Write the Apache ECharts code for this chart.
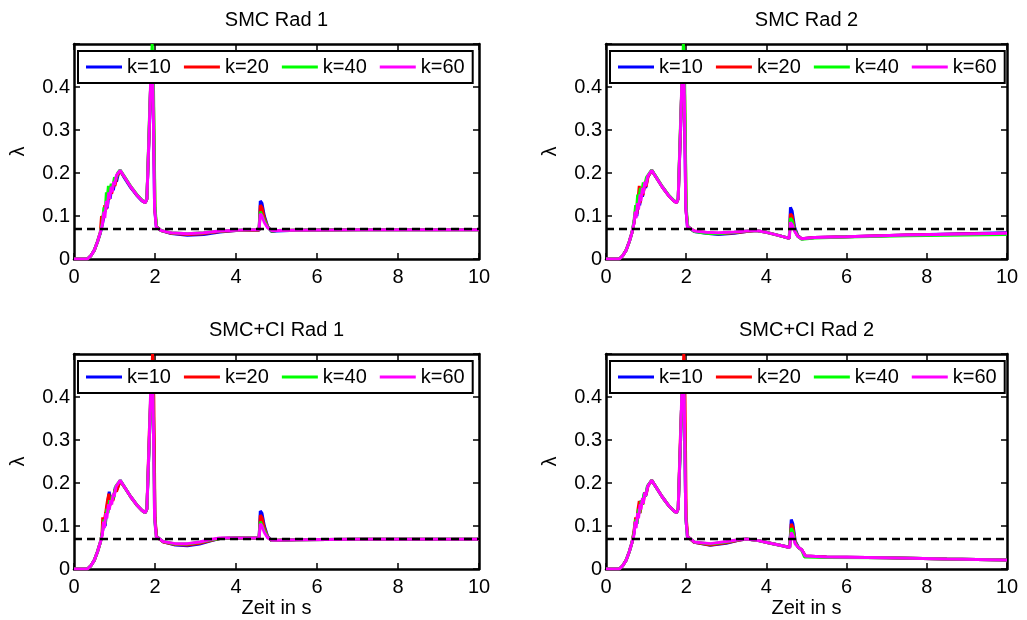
<!DOCTYPE html>
<html><head><meta charset="utf-8">
<script src="https://cdn.jsdelivr.net/npm/echarts@6/dist/echarts.min.js"></script>
<style>html,body{margin:0;padding:0;background:#fff}#c{width:1027px;height:620px}</style>
</head><body><div id="c"></div>
<script>
const legendNames = ['k=10','k=20','k=40','k=60'];
const seriesColors = ['#0000ff','#ff0000','#00ff00','#ff00ff'];
const panelTitles = ['SMC Rad 1','SMC Rad 2','SMC+CI Rad 1','SMC+CI Rad 2'];
const xTickLabels = ['0','2','4','6','8','10'];
const yTickLabels = ['0','0.1','0.2','0.3','0.4'];
const xRange = [0, 10];
const referenceLambda = 0.07;

const smc1_k10 = [[0,0],[0.33,0],[0.42,0.008],[0.5,0.02],[0.58,0.04],[0.65,0.06],[0.7,0.08],[0.75,0.105],[0.79,0.125],[0.82,0.118],[0.86,0.148],[0.89,0.14],[0.94,0.168],[0.97,0.16],[1.02,0.185],[1.05,0.18],[1.1,0.2],[1.14,0.206],[1.25,0.188],[1.4,0.166],[1.55,0.148],[1.68,0.135],[1.76,0.131],[1.8,0.14],[1.86,0.3],[1.91,0.46],[1.95,0.4],[1.99,0.12],[2.03,0.076],[2.15,0.066],[2.4,0.059],[2.8,0.055],[3.2,0.057],[3.6,0.063],[4.0,0.066],[4.4,0.067],[4.57,0.067],[4.6,0.135],[4.64,0.13],[4.7,0.1],[4.78,0.076],[4.88,0.064],[5.0,0.065],[5.5,0.067],[7,0.068],[10,0.068]];
const smc1_k20 = [[0,0],[0.33,0],[0.42,0.008],[0.5,0.02],[0.58,0.04],[0.65,0.062],[0.68,0.1],[0.71,0.09],[0.76,0.125],[0.79,0.115],[0.83,0.15],[0.86,0.138],[0.9,0.162],[0.93,0.152],[0.98,0.178],[1.01,0.17],[1.06,0.192],[1.14,0.205],[1.25,0.19],[1.4,0.168],[1.55,0.149],[1.68,0.136],[1.76,0.131],[1.8,0.14],[1.86,0.31],[1.92,0.48],[1.96,0.38],[2.0,0.11],[2.04,0.075],[2.15,0.066],[2.4,0.06],[2.8,0.057],[3.2,0.059],[3.6,0.064],[4.0,0.066],[4.4,0.067],[4.57,0.067],[4.6,0.125],[4.64,0.12],[4.7,0.095],[4.78,0.075],[4.88,0.065],[5.0,0.066],[5.5,0.067],[7,0.068],[10,0.068]];
const smc1_k40 = [[0,0],[0.33,0],[0.42,0.008],[0.5,0.02],[0.58,0.04],[0.65,0.062],[0.7,0.085],[0.74,0.12],[0.77,0.11],[0.8,0.155],[0.82,0.14],[0.85,0.17],[0.88,0.155],[0.92,0.175],[0.95,0.165],[1.0,0.19],[1.03,0.185],[1.08,0.2],[1.14,0.207],[1.25,0.191],[1.4,0.169],[1.55,0.15],[1.68,0.137],[1.76,0.132],[1.8,0.14],[1.86,0.32],[1.93,0.5],[1.96,0.42],[2.0,0.12],[2.04,0.075],[2.15,0.066],[2.4,0.061],[2.8,0.059],[3.2,0.061],[3.6,0.065],[4.0,0.067],[4.4,0.068],[4.57,0.068],[4.6,0.11],[4.64,0.108],[4.7,0.09],[4.78,0.074],[4.88,0.065],[5.0,0.066],[5.5,0.067],[7,0.068],[10,0.068]];
const smc1_k60 = [[0,0],[0.33,0],[0.42,0.008],[0.5,0.02],[0.58,0.04],[0.65,0.062],[0.7,0.08],[0.74,0.11],[0.76,0.095],[0.8,0.135],[0.82,0.12],[0.86,0.155],[0.88,0.14],[0.92,0.168],[0.94,0.155],[0.98,0.18],[1.0,0.172],[1.05,0.195],[1.14,0.206],[1.25,0.19],[1.4,0.168],[1.55,0.149],[1.68,0.136],[1.76,0.131],[1.8,0.14],[1.86,0.31],[1.91,0.47],[1.95,0.4],[1.99,0.12],[2.03,0.075],[2.15,0.066],[2.4,0.061],[2.8,0.059],[3.2,0.061],[3.6,0.065],[4.0,0.067],[4.4,0.068],[4.57,0.068],[4.6,0.105],[4.64,0.1],[4.7,0.085],[4.78,0.073],[4.88,0.066],[5.0,0.066],[5.5,0.067],[7,0.068],[10,0.068]];

const smc2_k10 = [[0,0],[0.33,0],[0.42,0.008],[0.5,0.02],[0.58,0.04],[0.65,0.062],[0.7,0.085],[0.74,0.11],[0.77,0.1],[0.81,0.135],[0.84,0.125],[0.88,0.155],[0.91,0.145],[0.96,0.172],[0.99,0.165],[1.04,0.19],[1.14,0.206],[1.25,0.19],[1.4,0.168],[1.55,0.149],[1.68,0.136],[1.76,0.131],[1.8,0.14],[1.86,0.3],[1.91,0.46],[1.95,0.4],[1.99,0.12],[2.03,0.076],[2.2,0.064],[2.5,0.06],[2.8,0.057],[3.2,0.06],[3.5,0.064],[3.75,0.066],[4.0,0.062],[4.3,0.055],[4.57,0.048],[4.6,0.12],[4.64,0.112],[4.7,0.075],[4.78,0.055],[4.88,0.047],[5.2,0.05],[6,0.052],[7.5,0.056],[10,0.061]];
const smc2_k20 = [[0,0],[0.33,0],[0.42,0.008],[0.5,0.02],[0.58,0.04],[0.65,0.062],[0.7,0.085],[0.74,0.115],[0.77,0.105],[0.8,0.14],[0.83,0.17],[0.85,0.13],[0.89,0.158],[0.92,0.148],[0.97,0.175],[1.0,0.168],[1.05,0.192],[1.14,0.206],[1.25,0.19],[1.4,0.168],[1.55,0.149],[1.68,0.136],[1.76,0.131],[1.8,0.14],[1.86,0.31],[1.92,0.48],[1.96,0.38],[2.0,0.11],[2.04,0.075],[2.2,0.065],[2.5,0.061],[2.8,0.059],[3.2,0.061],[3.5,0.064],[3.75,0.066],[4.0,0.062],[4.3,0.055],[4.57,0.048],[4.6,0.105],[4.64,0.1],[4.7,0.07],[4.78,0.054],[4.88,0.047],[5.2,0.05],[6,0.052],[7.5,0.056],[10,0.06]];
const smc2_k40 = [[0,0],[0.33,0],[0.42,0.008],[0.5,0.02],[0.58,0.04],[0.65,0.062],[0.7,0.09],[0.74,0.125],[0.76,0.115],[0.79,0.15],[0.82,0.14],[0.86,0.165],[0.89,0.155],[0.93,0.178],[0.96,0.17],[1.01,0.19],[1.14,0.207],[1.25,0.191],[1.4,0.169],[1.55,0.15],[1.68,0.137],[1.76,0.132],[1.8,0.14],[1.86,0.32],[1.93,0.5],[1.96,0.42],[2.0,0.12],[2.04,0.075],[2.2,0.064],[2.5,0.06],[2.8,0.059],[3.2,0.062],[3.5,0.065],[3.75,0.066],[4.0,0.062],[4.3,0.055],[4.57,0.048],[4.6,0.095],[4.64,0.09],[4.7,0.068],[4.78,0.053],[4.88,0.046],[5.2,0.049],[6,0.051],[7.5,0.054],[10,0.057]];
const smc2_k60 = [[0,0],[0.33,0],[0.42,0.008],[0.5,0.02],[0.58,0.04],[0.65,0.062],[0.7,0.085],[0.73,0.11],[0.75,0.095],[0.79,0.13],[0.81,0.115],[0.85,0.15],[0.87,0.135],[0.91,0.165],[0.93,0.152],[0.97,0.18],[0.99,0.17],[1.04,0.192],[1.14,0.206],[1.25,0.19],[1.4,0.168],[1.55,0.149],[1.68,0.136],[1.76,0.131],[1.8,0.14],[1.86,0.31],[1.91,0.47],[1.95,0.4],[1.99,0.12],[2.03,0.075],[2.2,0.065],[2.5,0.062],[2.8,0.061],[3.2,0.063],[3.5,0.065],[3.75,0.066],[4.0,0.062],[4.3,0.055],[4.57,0.048],[4.6,0.085],[4.64,0.08],[4.7,0.065],[4.78,0.053],[4.88,0.047],[5.2,0.05],[6,0.052],[7.5,0.056],[10,0.06]];

const ci1_k10 = [[0,0],[0.33,0],[0.42,0.008],[0.5,0.02],[0.58,0.04],[0.65,0.062],[0.7,0.085],[0.74,0.11],[0.77,0.1],[0.81,0.14],[0.84,0.16],[0.87,0.18],[0.9,0.15],[0.94,0.17],[0.97,0.162],[1.02,0.19],[1.06,0.185],[1.14,0.206],[1.25,0.19],[1.4,0.168],[1.55,0.149],[1.68,0.136],[1.76,0.131],[1.8,0.14],[1.86,0.3],[1.92,0.46],[1.96,0.38],[2.0,0.11],[2.04,0.076],[2.2,0.063],[2.5,0.056],[2.8,0.054],[3.1,0.058],[3.4,0.066],[3.6,0.071],[4.0,0.072],[4.57,0.072],[4.6,0.135],[4.64,0.13],[4.7,0.1],[4.78,0.076],[4.88,0.066],[5.0,0.066],[5.5,0.068],[7,0.069],[10,0.069]];
const ci1_k20 = [[0,0],[0.33,0],[0.42,0.008],[0.5,0.02],[0.58,0.04],[0.65,0.062],[0.69,0.08],[0.71,0.12],[0.73,0.1],[0.78,0.13],[0.82,0.155],[0.86,0.175],[0.89,0.148],[0.93,0.168],[0.96,0.158],[1.01,0.185],[1.05,0.18],[1.14,0.205],[1.25,0.19],[1.4,0.168],[1.55,0.149],[1.68,0.136],[1.76,0.131],[1.8,0.14],[1.86,0.32],[1.94,0.5],[1.97,0.4],[2.0,0.12],[2.04,0.075],[2.2,0.063],[2.5,0.057],[2.8,0.056],[3.1,0.06],[3.4,0.067],[3.6,0.071],[4.0,0.072],[4.57,0.072],[4.6,0.125],[4.64,0.12],[4.7,0.095],[4.78,0.075],[4.88,0.066],[5.0,0.067],[5.5,0.068],[7,0.069],[10,0.069]];
const ci1_k40 = [[0,0],[0.33,0],[0.42,0.008],[0.5,0.02],[0.58,0.04],[0.65,0.062],[0.7,0.085],[0.74,0.115],[0.77,0.105],[0.81,0.14],[0.84,0.13],[0.88,0.16],[0.91,0.15],[0.95,0.172],[0.98,0.165],[1.03,0.192],[1.14,0.206],[1.25,0.19],[1.4,0.168],[1.55,0.149],[1.68,0.136],[1.76,0.131],[1.8,0.14],[1.86,0.3],[1.91,0.46],[1.95,0.4],[1.99,0.12],[2.03,0.075],[2.2,0.064],[2.5,0.058],[2.8,0.058],[3.1,0.062],[3.4,0.068],[3.6,0.071],[4.0,0.072],[4.57,0.072],[4.6,0.11],[4.64,0.107],[4.7,0.09],[4.78,0.074],[4.88,0.066],[5.0,0.067],[5.5,0.068],[7,0.069],[10,0.069]];
const ci1_k60 = [[0,0],[0.33,0],[0.42,0.008],[0.5,0.02],[0.58,0.04],[0.65,0.062],[0.7,0.08],[0.73,0.11],[0.75,0.095],[0.79,0.13],[0.81,0.118],[0.85,0.15],[0.87,0.138],[0.91,0.16],[0.93,0.15],[0.97,0.175],[0.99,0.168],[1.04,0.192],[1.14,0.206],[1.25,0.19],[1.4,0.168],[1.55,0.149],[1.68,0.136],[1.76,0.131],[1.8,0.14],[1.86,0.31],[1.91,0.47],[1.95,0.4],[1.99,0.12],[2.03,0.075],[2.2,0.064],[2.5,0.059],[2.8,0.059],[3.1,0.063],[3.4,0.069],[3.6,0.072],[4.0,0.072],[4.57,0.072],[4.6,0.105],[4.64,0.1],[4.7,0.085],[4.78,0.073],[4.88,0.067],[5.0,0.067],[5.5,0.068],[7,0.069],[10,0.069]];

const ci2_k10 = [[0,0],[0.33,0],[0.42,0.008],[0.5,0.02],[0.58,0.04],[0.65,0.062],[0.7,0.085],[0.74,0.115],[0.77,0.105],[0.81,0.14],[0.84,0.13],[0.88,0.16],[0.91,0.15],[0.96,0.178],[0.99,0.17],[1.04,0.193],[1.14,0.206],[1.25,0.19],[1.4,0.168],[1.55,0.149],[1.68,0.136],[1.76,0.131],[1.8,0.14],[1.86,0.3],[1.91,0.46],[1.95,0.4],[1.99,0.12],[2.03,0.076],[2.2,0.062],[2.6,0.055],[3.0,0.06],[3.3,0.067],[3.5,0.07],[3.8,0.066],[4.1,0.06],[4.4,0.054],[4.58,0.05],[4.62,0.115],[4.66,0.105],[4.72,0.065],[4.8,0.05],[4.88,0.045],[4.97,0.03],[5.5,0.028],[7,0.026],[8.5,0.023],[10,0.021]];
const ci2_k20 = [[0,0],[0.33,0],[0.42,0.008],[0.5,0.02],[0.58,0.04],[0.65,0.062],[0.7,0.09],[0.74,0.12],[0.77,0.11],[0.8,0.14],[0.83,0.158],[0.85,0.13],[0.89,0.16],[0.92,0.15],[0.97,0.178],[1.0,0.172],[1.05,0.194],[1.14,0.206],[1.25,0.19],[1.4,0.168],[1.55,0.149],[1.68,0.136],[1.76,0.131],[1.8,0.14],[1.86,0.32],[1.94,0.5],[1.97,0.4],[2.0,0.12],[2.04,0.075],[2.2,0.062],[2.6,0.056],[3.0,0.061],[3.3,0.067],[3.5,0.07],[3.8,0.066],[4.1,0.06],[4.4,0.054],[4.58,0.05],[4.62,0.105],[4.66,0.097],[4.72,0.062],[4.8,0.05],[4.88,0.045],[4.97,0.03],[5.5,0.028],[7,0.026],[8.5,0.023],[10,0.021]];
const ci2_k40 = [[0,0],[0.33,0],[0.42,0.008],[0.5,0.02],[0.58,0.04],[0.65,0.062],[0.7,0.085],[0.74,0.115],[0.77,0.105],[0.81,0.14],[0.84,0.13],[0.88,0.16],[0.91,0.15],[0.95,0.175],[0.98,0.168],[1.03,0.192],[1.14,0.206],[1.25,0.19],[1.4,0.168],[1.55,0.149],[1.68,0.136],[1.76,0.131],[1.8,0.14],[1.86,0.3],[1.91,0.46],[1.95,0.4],[1.99,0.12],[2.03,0.075],[2.2,0.063],[2.6,0.058],[3.0,0.063],[3.3,0.068],[3.5,0.07],[3.8,0.066],[4.1,0.06],[4.4,0.054],[4.58,0.05],[4.62,0.095],[4.66,0.088],[4.72,0.06],[4.8,0.05],[4.88,0.044],[4.95,0.028],[5.5,0.027],[7,0.026],[8.5,0.023],[10,0.021]];
const ci2_k60 = [[0,0],[0.33,0],[0.42,0.008],[0.5,0.02],[0.58,0.04],[0.65,0.062],[0.7,0.08],[0.73,0.11],[0.75,0.095],[0.79,0.13],[0.81,0.118],[0.85,0.15],[0.87,0.138],[0.91,0.165],[0.93,0.152],[0.97,0.178],[0.99,0.17],[1.04,0.192],[1.14,0.206],[1.25,0.19],[1.4,0.168],[1.55,0.149],[1.68,0.136],[1.76,0.131],[1.8,0.14],[1.86,0.31],[1.91,0.47],[1.95,0.4],[1.99,0.12],[2.03,0.075],[2.2,0.063],[2.6,0.059],[3.0,0.064],[3.3,0.068],[3.5,0.07],[3.8,0.066],[4.1,0.06],[4.4,0.054],[4.58,0.05],[4.62,0.085],[4.66,0.078],[4.72,0.058],[4.8,0.05],[4.88,0.045],[4.97,0.03],[5.5,0.028],[7,0.026],[8.5,0.023],[10,0.021]];

const panelData = [
  [smc1_k10, smc1_k20, smc1_k40, smc1_k60],
  [smc2_k10, smc2_k20, smc2_k40, smc2_k60],
  [ci1_k10, ci1_k20, ci1_k40, ci1_k60],
  [ci2_k10, ci2_k20, ci2_k40, ci2_k60]
];

const FONT = '"Liberation Sans", Arial, Helvetica, sans-serif';
const FS = 20;
const gridBoxes = [
  {left:74, top:44, width:405, height:215},
  {left:606, top:44, width:401, height:215},
  {left:74, top:354, width:405, height:215},
  {left:606, top:354, width:401, height:215}
];

const option = {
  animation: false,
  backgroundColor: '#fff',
  textStyle: {fontFamily: FONT, color: '#000'},
  title: [], grid: [], xAxis: [], yAxis: [], legend: [], series: []
};

const axisLine = {show: true, onZero: false, lineStyle: {color: '#000', width: 2.5}};
const tick = {show: true, inside: true, length: 6, lineStyle: {color: '#000', width: 1.5}};

gridBoxes.forEach((g, i) => {
  option.grid.push({left: g.left, top: g.top, width: g.width, height: g.height, containLabel: false});
  option.title.push({
    text: panelTitles[i], left: g.left + g.width / 2, top: g.top - 34, textAlign: 'center', padding: 0,
    textStyle: {fontFamily: FONT, fontSize: FS, fontWeight: 'normal', color: '#000'}
  });
  const bottomRow = i >= 2;
  option.xAxis.push({
    type: 'value', gridIndex: i, position: 'bottom', min: xRange[0], max: xRange[1], interval: 2,
    axisLine, axisTick: tick, splitLine: {show: false},
    axisLabel: {color: '#000', fontSize: FS, fontFamily: FONT, margin: 8,
      formatter: v => xTickLabels[Math.round(v / 2)] ?? ''},
    name: bottomRow ? 'Zeit in s' : '', nameLocation: 'middle', nameGap: 29,
    nameTextStyle: {fontSize: FS, fontFamily: FONT, color: '#000'}
  });
  option.xAxis.push({
    type: 'value', gridIndex: i, position: 'top', min: xRange[0], max: xRange[1], interval: 2,
    axisLine, axisTick: tick, axisLabel: {show: false}, splitLine: {show: false}
  });
  option.yAxis.push({
    type: 'value', gridIndex: i, position: 'left', min: 0, max: 0.5, interval: 0.1,
    axisLine, axisTick: tick, splitLine: {show: false},
    axisLabel: {color: '#000', fontSize: FS, fontFamily: FONT, margin: 4,
      formatter: v => yTickLabels[Math.round(v * 10)] ?? ''},
    name: 'λ', nameLocation: 'middle', nameGap: 46,
    nameTextStyle: {fontSize: FS, fontFamily: FONT, color: '#000'}
  });
  option.yAxis.push({
    type: 'value', gridIndex: i, position: 'right', min: 0, max: 0.5, interval: 0.1,
    axisLine, axisTick: tick, axisLabel: {show: false}, splitLine: {show: false}
  });
  option.legend.push({
    left: g.left + 4, top: g.top + 7, orient: 'horizontal',
    data: legendNames, icon: 'rect', itemWidth: 36, itemHeight: 3, itemGap: 13,
    padding: [6, 8], borderColor: '#000', borderWidth: 2, backgroundColor: '#fff',
    selectedMode: false,
    textStyle: {fontSize: FS, fontFamily: FONT, color: '#000', padding: [2, 0, 0, 0]}
  });
  panelData[i].forEach((d, j) => {
    option.series.push({
      type: 'line', name: legendNames[j], xAxisIndex: 2 * i, yAxisIndex: 2 * i,
      data: d, symbol: 'none', smooth: false, clip: true,
      lineStyle: {width: 3, color: seriesColors[j]}, itemStyle: {color: seriesColors[j]}, z: 2
    });
  });
  option.series.push({
    type: 'line', name: 'ref', xAxisIndex: 2 * i, yAxisIndex: 2 * i,
    data: [[xRange[0], referenceLambda], [xRange[1], referenceLambda]],
    symbol: 'none', silent: true,
    lineStyle: {width: 2.5, color: '#000', type: [8, 5]}, z: 3
  });
});

const chart = echarts.init(document.getElementById('c'));
chart.setOption(option);
</script>
</body></html>
